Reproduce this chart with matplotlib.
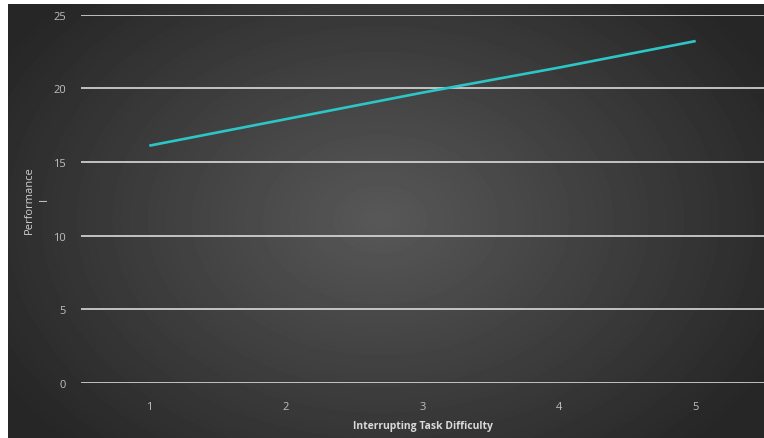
import matplotlib.pyplot as plt
import numpy as np

difficulty = [1, 2, 3, 4, 5]
performance = [16.1, 17.9, 19.7, 21.4, 23.2]
y_ticks = [0, 5, 10, 15, 20, 25]

W, H = 764, 439
fig = plt.figure(figsize=(W / 100, H / 100), dpi=100, facecolor='white')

# dark panel with a soft radial glow in the middle
bg = fig.add_axes([8 / W, 0, (W - 8) / W, (H - 5) / H])
yy, xx = np.mgrid[0:434, 0:756]
r = np.sqrt(((xx - 372) / 430.0) ** 2 + ((yy - 215) / 310.0) ** 2)
shade = np.clip(0.345 - 0.19 * r, 0.15, 0.35)
bg.imshow(shade, cmap='gray', vmin=0, vmax=1, aspect='auto', interpolation='bilinear')
bg.axis('off')

ax = fig.add_axes([81 / W, (H - 384) / H, (W - 81) / W, (384 - 15.5) / H])
ax.patch.set_alpha(0)
for s in ax.spines.values():
    s.set_visible(False)

ax.plot(difficulty, performance, color='#2cc6c6', linewidth=1.9, solid_capstyle='butt', zorder=3)

ax.set_xlim(0.5, 5.5)
ax.set_ylim(0, 25)
ax.set_yticks(y_ticks)
ax.set_xticks(difficulty)
ax.yaxis.grid(True, color='#e8e8e8', linewidth=1.1)
ax.set_axisbelow(True)
ax.tick_params(length=0, colors='#bfbfbf', labelsize=8)
ax.tick_params(axis='y', pad=11)
ax.tick_params(axis='x', pad=13)
for lab in ax.get_xticklabels() + ax.get_yticklabels():
    lab.set_family('Open Sans')

ax.set_xlabel('Interrupting Task Difficulty', color='#d9d9d9', fontsize=7.5,
              fontweight='bold', family='Open Sans', labelpad=6)
ax.set_ylabel('Performance\nI', color='#d0d0d0', fontsize=8,
              family='Open Sans', labelpad=2, multialignment='center', linespacing=1.5)

fig.savefig('out.png', dpi=100, facecolor='white')
